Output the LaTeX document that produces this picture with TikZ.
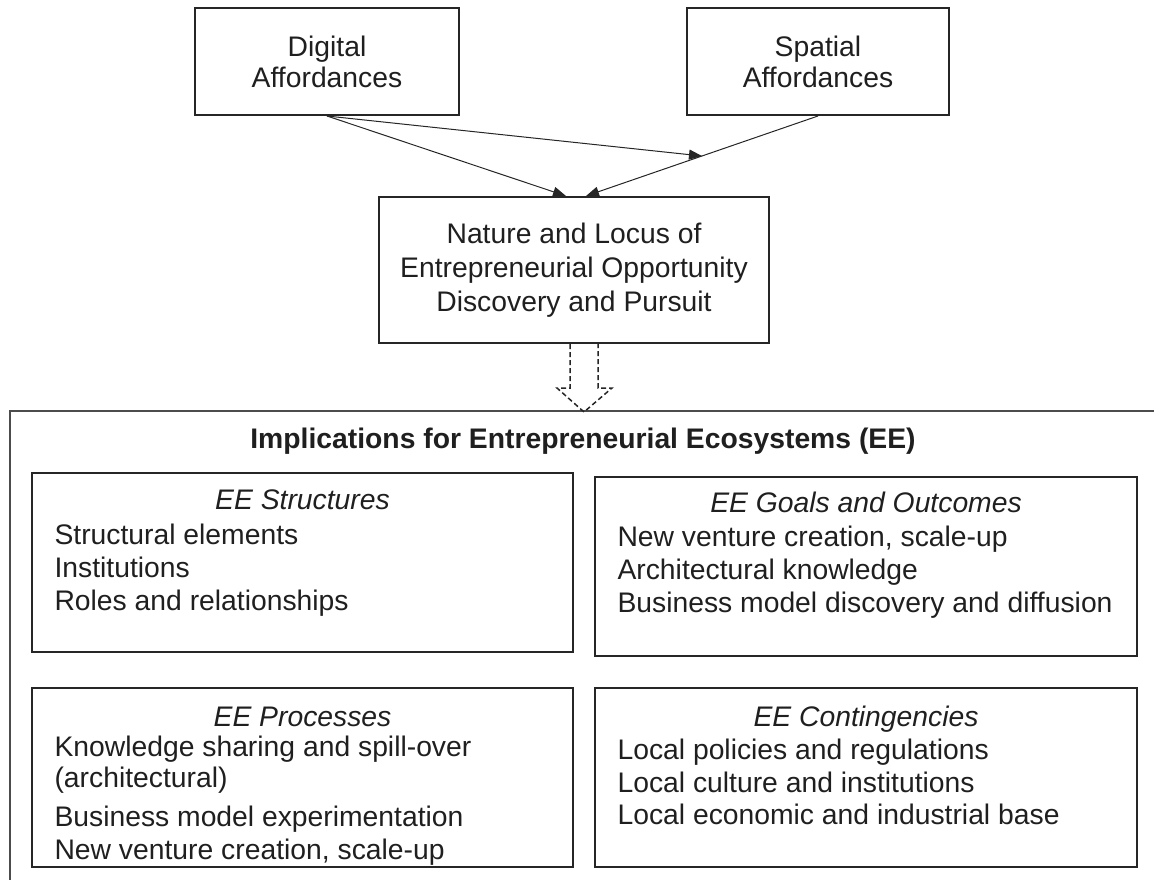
\documentclass[tikz,border=0pt]{standalone}
\usepackage{fontspec}
\setmainfont{Liberation Sans}
\usetikzlibrary{arrows.meta,calc}

\tikzset{
  box/.style={draw=black!85, line width=2pt, rectangle, align=center, inner sep=0pt},
  arr/.style={-{Triangle[length=13pt,width=10pt]}, line width=1pt, draw=black!85},
  frame/.style={draw=black!70, line width=2.5pt},
  blockarrow/.style={draw=black!85, line width=1.5pt, dash pattern=on 5pt off 3pt, line join=miter},
  head/.style={anchor=base, font=\fontsize{28.3}{33}\selectfont\itshape},
  item/.style={anchor=base west},
  title/.style={anchor=base, font=\fontsize{28.3}{33}\selectfont\bfseries},
}

\begin{document}
\begin{tikzpicture}[x=1pt, y=-1pt, font=\fontsize{28.3}{33}\selectfont, text=black!88]
\useasboundingbox (0,0) rectangle (1154,880);

% upper part: affordances feeding opportunity discovery
\node[box, minimum width=264, minimum height=107, font=\fontsize{28.3}{31}\selectfont] (digital) at (327,61.5) {Digital\\Affordances};
\node[box, minimum width=262, minimum height=107, font=\fontsize{28.3}{31}\selectfont] (spatial) at (818,61.5) {Spatial\\Affordances};
\node[box, minimum width=390, minimum height=146, font=\fontsize{28.3}{34}\selectfont] (nature) at (574,270)
  {Nature and Locus of\\Entrepreneurial Opportunity\\Discovery and Pursuit};

\path (spatial.south) -- ($(nature.north)+(12,0)$) coordinate[pos=0.5] (mid);
\draw[arr] (spatial.south) -- ($(nature.north)+(12,0)$);
\draw[arr] (digital.south) -- ($(nature.north)+(-8,0)$);
\draw[arr] (digital.south) -- (mid);

% outer frame of the implications panel
\coordinate (frametl) at (10,411);
\draw[frame] (10,880) -- (frametl) -- (1154,411);

% dashed block arrow down to the panel
\coordinate (ba) at ($(nature.south)+(10,0)$);
\draw[blockarrow] ($(ba)+(-14,0)$) -- ($(ba)+(-14,44)$) -- ($(ba)+(-27,44)$) -- ($(ba)+(0,68)$)
  -- ($(ba)+(28,44)$) -- ($(ba)+(14,44)$) -- ($(ba)+(14,0)$);

\node[title] (ttl) at (583,448) {Implications for Entrepreneurial Ecosystems (EE)};

% four implication boxes
\node[box, minimum width=541, minimum height=179] (tl) at (302.5,562.5) {};
\node[box, minimum width=542, minimum height=179] (tr) at (866,566.5) {};
\node[box, minimum width=541, minimum height=179] (bl) at (302.5,777.5) {};
\node[box, minimum width=542, minimum height=179] (br) at (866,777.5) {};

% structures
\node[head] (tlh) at ($(tl.north)+(0,37)$) {EE Structures};
\node[item] (tl1) at ($(tl.north west)+(20,72)$) {Structural elements};
\node[item] (tl2) at ($(tl.north west)+(20,105)$) {Institutions};
\node[item] (tl3) at ($(tl.north west)+(20,138)$) {Roles and relationships};

% goals and outcomes
\node[head] (trh) at ($(tr.north)+(0,36)$) {EE Goals and Outcomes};
\node[item] (tr1) at ($(tr.north west)+(20,70)$) {New venture creation, scale-up};
\node[item] (tr2) at ($(tr.north west)+(20,103)$) {Architectural knowledge};
\node[item] (tr3) at ($(tr.north west)+(20,136)$) {Business model discovery and diffusion};

% processes
\node[head] (blh) at ($(bl.north)+(0,39)$) {EE Processes};
\node[item] (bl1) at ($(bl.north west)+(20,69)$) {Knowledge sharing and spill-over};
\node[item] (bl2) at ($(bl.north west)+(20,100)$) {(architectural)};
\node[item] (bl3) at ($(bl.north west)+(20,139)$) {Business model experimentation};
\node[item] (bl4) at ($(bl.north west)+(20,172)$) {New venture creation, scale-up};

% contingencies
\node[head] (brh) at ($(br.north)+(0,39)$) {EE Contingencies};
\node[item] (br1) at ($(br.north west)+(20,72)$) {Local policies and regulations};
\node[item] (br2) at ($(br.north west)+(20,105)$) {Local culture and institutions};
\node[item] (br3) at ($(br.north west)+(20,137)$) {Local economic and industrial base};
\end{tikzpicture}
\end{document}
